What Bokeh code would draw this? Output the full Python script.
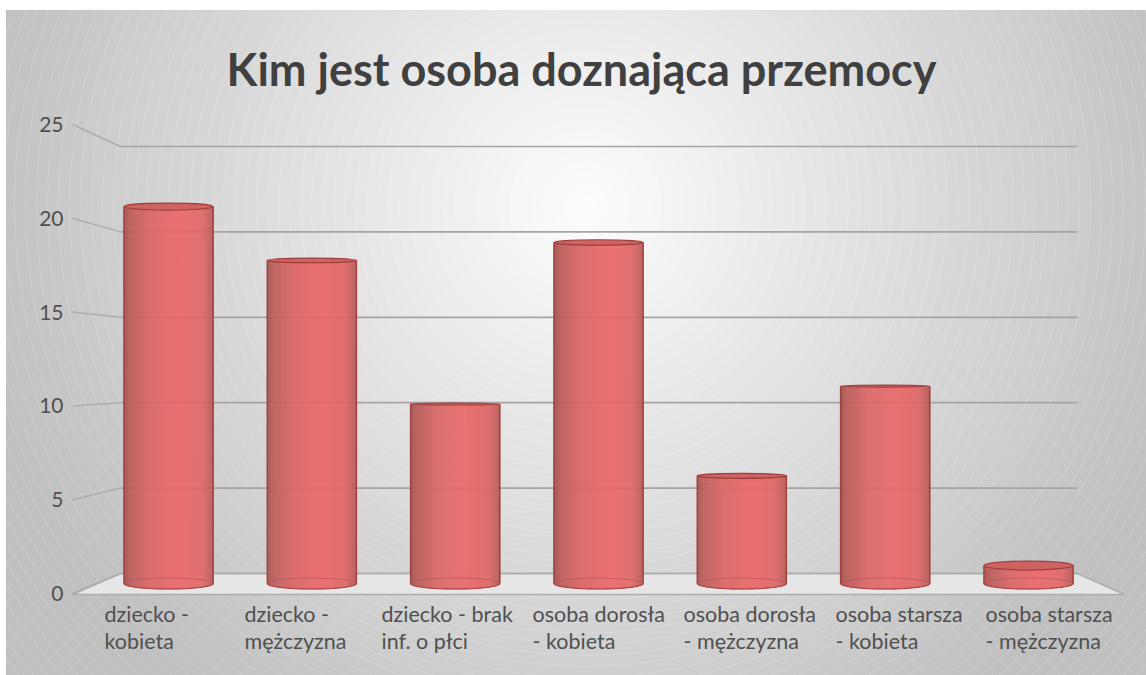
import math
from bokeh.plotting import figure
from bokeh.embed import file_html
from bokeh.resources import INLINE
from bokeh.core.properties import value
from bokeh.models import Range1d, LinearAxis, FixedTicker, Label

title_text = "Kim jest osoba doznająca przemocy"
categories = ["dziecko -\nkobieta", "dziecko -\nmężczyzna", "dziecko - brak\ninf. o płci",
              "osoba dorosła\n- kobieta", "osoba dorosła\n- mężczyzna",
              "osoba starsza\n- kobieta", "osoba starsza\n- mężczyzna"]
values = [21, 18, 10, 19, 6, 11, 1]
y_ticks = [0, 5, 10, 15, 20, 25]
label_starts = [104, 244, 381, 532, 683, 835, 985]

W, H = 1146, 675
L, T, R, B = 6, 10, 1146, 675   # plot frame on the page

# scales: mid plane of the bars, and the front plane that carries the axes
CX0, CDX = 168.0, 143.33
BASE, UNIT = 583.0, 17.95
F0, FU = 593.0, 18.76
B0, BU = 573.0, 17.08
BACK_L, BACK_R, FRONT_L, FRONT_R = 120, 1077, 72, 1124

def dx(px):
    return (px - CX0) / CDX
def dy(py):
    return (BASE - py) / UNIT

p = figure(width=W, height=H, output_backend="svg", toolbar_location=None,
           x_range=Range1d(dx(L), dx(R)), y_range=Range1d(dy(B), dy(T)),
           min_border_left=L, min_border_right=0, min_border_top=T, min_border_bottom=0,
           x_axis_type=None, y_axis_type=None, background_fill_color="#c0c0c0",
           border_fill_color="#ffffff", outline_line_color="#c4c4c4")
p.grid.visible = False
p.extra_y_ranges["front"] = Range1d((F0 - B) / FU, (F0 - T) / FU)
p.extra_x_ranges["labels"] = Range1d(L, R)

# radial backdrop
gcx, gcy = dx(585), dy(205)
radii = list(range(780, 0, -11))
def shade(r):
    g = max(192, min(253, 253 - 0.098 * r))
    g = int(round(g))
    return "#%02x%02x%02x" % (g, g, g)
p.ellipse([gcx] * len(radii), [gcy] * len(radii), width=[2 * r for r in radii], height=[2 * r for r in radii],
          width_units="screen", height_units="screen", fill_color=[shade(r) for r in radii],
          line_color="#ffffff", line_alpha=0.16, line_width=1)

# floor
p.patch([dx(FRONT_L), dx(BACK_L), dx(BACK_R), dx(FRONT_R)],
        [dy(F0 + 1), dy(B0), dy(B0), dy(F0 + 1)],
        fill_color="#e6e6e6", line_color="#adadad", line_width=1.4)

# walls: gridlines and the slanted lines to the front
back = [dy(B0 - BU * v) for v in y_ticks]
front = [dy(F0 - FU * v) for v in y_ticks]
p.segment([dx(BACK_L)] * 6, back, [dx(BACK_R)] * 6, back, line_color="#adadad", line_width=1.7)
p.segment([dx(FRONT_L)] * 6, front, [dx(BACK_L)] * 6, back, line_color="#adadad", line_width=1.5)

# cylinders
stops = [(0.0, (168, 92, 90)), (0.07, (190, 102, 100)), (0.3, (220, 110, 110)), (0.6, (235, 113, 113)),
         (0.88, (222, 111, 111)), (1.0, (184, 100, 98))]
def body(t):
    for (a, ca), (b, cb) in zip(stops, stops[1:]):
        if t <= b:
            k = (t - a) / (b - a)
            c = [int(ca[i] + (cb[i] - ca[i]) * k) for i in range(3)]
            return "#%02x%02x%02x" % tuple(c)
    return "#b66260"

BAR_W = 0.622
EYE = 12.2
STRIPS = 45
BOT_H = 11.0
def top_h(v):
    return max(2.0, 0.80 * abs(v - EYE))

for i, v in enumerate(values):
    half = BAR_W / 2
    lefts, rights, bots, tops, cols = [], [], [], [], []
    for s in range(STRIPS):
        a = s / STRIPS
        b = (s + 1) / STRIPS
        u = (a + b) - 1
        lefts.append(i - half + 2 * half * a)
        rights.append(i - half + 2 * half * b + 0.004)
        bots.append(dy(BASE + BOT_H / 2 * math.sqrt(max(0, 1 - u * u))))
        tops.append(v)
        cols.append(body((a + b) / 2))
    p.quad(left=lefts, right=rights, bottom=bots, top=tops, fill_color=cols, line_color=None)
    # base ellipse (seen through the body)
    p.ellipse([i], [0], width=[2 * half], height=[BOT_H / UNIT], fill_alpha=0,
              line_color="#b24a4a", line_alpha=0.55, line_width=1)
    # sides and front rim
    p.segment([i - half, i + half], [0, 0], [i - half, i + half], [v, v], line_color="#a03e3e", line_width=1.4)
    arc_x = [i + half * math.cos(math.pi * k / 40) for k in range(41)]
    arc_y = [dy(BASE + BOT_H / 2 * math.sin(math.pi * k / 40)) for k in range(41)]
    p.line(arc_x, arc_y, line_color="#b04444", line_width=1.2)
    # top ellipse
    h = top_h(v)
    p.ellipse([i], [v], width=[2 * half], height=[h / UNIT], fill_color="#cf6362",
              line_color="#a03e3e", line_width=1.2)

# gridlines faintly showing through the glass
p.segment([dx(BACK_L)] * 5, back[1:], [dx(BACK_R)] * 5, back[1:], line_color="#7a3030", line_alpha=0.10, line_width=1.2)

# axes and labels
yaxis = LinearAxis(y_range_name="front", ticker=FixedTicker(ticks=y_ticks), fixed_location=dx(70),
                   axis_line_color=None, major_tick_line_color=None, minor_tick_line_color=None,
                   major_label_text_font="Lato", major_label_text_font_size="21px",
                   major_label_text_color="#505050", major_label_standoff=1)
p.add_layout(yaxis, "left")
p.text(x=label_starts, y=[dy(600)] * 7, text=categories, x_range_name="labels",
       text_font=value("Lato"), text_font_size="21.5px", text_color="#505050",
       text_align="left", text_baseline="top", text_line_height=1.05)

p.add_layout(Label(x=575, y=H - 68, x_units="screen", y_units="screen", text=title_text,
                   text_font="Lato", text_font_style="bold", text_font_size="45px", text_color="#404040",
                   text_align="center", text_baseline="middle"))

open("out.html", "w").write(file_html(p, INLINE))
